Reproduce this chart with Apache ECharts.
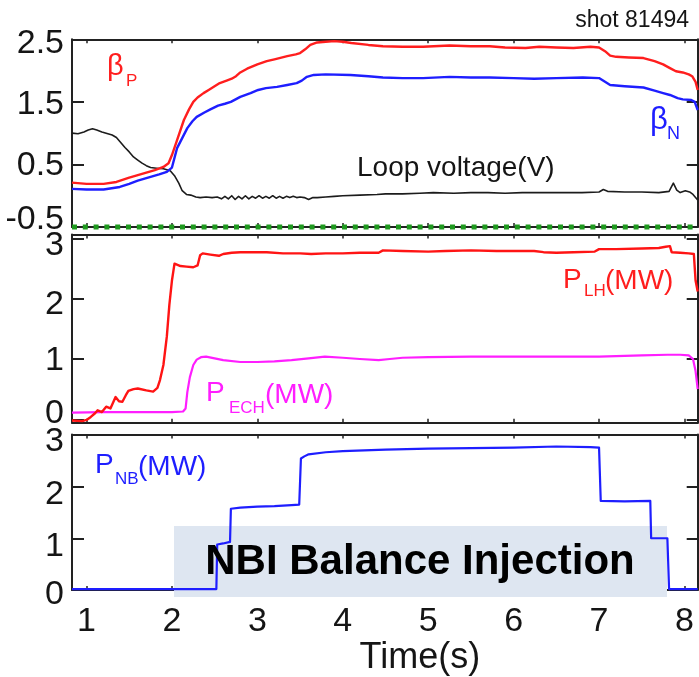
<!DOCTYPE html>
<html>
<head>
<meta charset="utf-8">
<script src="https://cdn.jsdelivr.net/npm/echarts@6/dist/echarts.min.js"></script>
<style>
  html, body { margin: 0; padding: 0; background: #fff; }
  #chart { width: 699px; height: 677px; }
</style>
</head>
<body>
<div id="chart"></div>
<script>
// ---- time axis and tick labels ----
const timeRange = [0.83, 8.155];
const timeTicks = [1, 2, 3, 4, 5, 6, 7, 8];
const betaRange = [-0.5, 2.5];
const betaTicks = [-0.5, 0.5, 1.5, 2.5];
const heatRange = [-0.056, 3.063];
const heatTicks = [0, 1, 2, 3];
const nbRange = [0, 3];
const nbTicks = [0, 1, 2, 3];

// ---- top panel: poloidal beta, normalised beta, loop voltage ----
const betaP = [
  [0.83,0.21],[1.0,0.19],[1.2,0.19],[1.35,0.22],[1.5,0.29],[1.65,0.35],[1.8,0.41],[1.9,0.46],
  [1.96,0.52],[2.0,0.65],[2.06,0.89],[2.14,1.21],[2.2,1.38],[2.25,1.50],[2.3,1.57],[2.37,1.64],
  [2.43,1.69],[2.49,1.74],[2.56,1.80],[2.64,1.84],[2.7,1.87],[2.75,1.91],[2.8,1.97],[2.88,2.03],
  [3.0,2.10],[3.11,2.15],[3.2,2.18],[3.35,2.23],[3.45,2.26],[3.5,2.28],[3.56,2.34],[3.62,2.41],
  [3.7,2.45],[3.8,2.46],[3.9,2.47],[4.0,2.46],[4.1,2.44],[4.3,2.41],[4.47,2.39],[4.7,2.38],
  [4.94,2.38],[5.25,2.40],[5.5,2.39],[5.72,2.39],[5.9,2.37],[6.14,2.36],[6.3,2.38],[6.5,2.37],
  [6.7,2.36],[6.9,2.38],[7.0,2.37],[7.07,2.31],[7.13,2.24],[7.2,2.22],[7.35,2.21],[7.52,2.20],
  [7.65,2.15],[7.75,2.10],[7.83,2.04],[7.9,1.99],[7.98,1.97],[8.05,1.94],[8.09,1.91],[8.13,1.82],
  [8.155,1.69]
];
const betaN = [
  [0.83,0.11],[1.0,0.10],[1.2,0.10],[1.39,0.14],[1.5,0.19],[1.6,0.24],[1.75,0.30],[1.85,0.34],
  [1.94,0.38],[2.0,0.45],[2.06,0.76],[2.12,0.92],[2.18,1.08],[2.24,1.19],[2.29,1.26],[2.38,1.33],
  [2.45,1.38],[2.54,1.44],[2.62,1.47],[2.69,1.50],[2.8,1.58],[2.92,1.64],[3.01,1.69],[3.1,1.72],
  [3.23,1.74],[3.35,1.77],[3.46,1.80],[3.52,1.84],[3.58,1.90],[3.66,1.93],[3.8,1.94],[4.09,1.93],
  [4.3,1.91],[4.47,1.89],[4.7,1.88],[4.94,1.88],[5.25,1.90],[5.5,1.89],[5.72,1.89],[6.0,1.88],
  [6.24,1.87],[6.5,1.88],[6.81,1.89],[7.0,1.88],[7.07,1.82],[7.13,1.77],[7.3,1.75],[7.52,1.73],
  [7.65,1.68],[7.75,1.64],[7.83,1.61],[7.92,1.56],[7.98,1.54],[8.08,1.53],[8.12,1.50],[8.155,1.37]
];
const loopVoltage = [
  [0.83,1.00],[0.9,0.99],[0.97,1.02],[1.02,1.05],[1.07,1.07],[1.12,1.05],[1.18,1.02],[1.25,0.99],
  [1.3,0.97],[1.35,0.93],[1.4,0.85],[1.45,0.77],[1.5,0.70],[1.55,0.62],[1.6,0.57],[1.65,0.52],
  [1.7,0.48],[1.75,0.45],[1.82,0.44],[1.9,0.43],[1.98,0.40],[2.03,0.32],[2.08,0.20],[2.12,0.08],
  [2.17,0.02],[2.22,0.01],[2.28,-0.02],[2.33,-0.03],[2.4,-0.02],[2.47,-0.03],[2.53,-0.02],[2.58,-0.05],
  [2.62,-0.01],[2.66,-0.05],[2.7,0.0],[2.74,-0.06],[2.78,-0.01],[2.82,-0.05],[2.86,0.0],[2.9,-0.05],
  [2.94,-0.01],[2.98,-0.04],[3.02,0.0],[3.06,-0.04],[3.1,-0.01],[3.14,-0.04],[3.18,0.0],[3.22,-0.04],
  [3.26,-0.01],[3.3,-0.04],[3.34,-0.01],[3.38,-0.03],[3.42,-0.01],[3.46,-0.03],[3.5,-0.02],[3.55,-0.03],
  [3.6,-0.06],[3.65,-0.03],[3.7,-0.03],[3.8,-0.02],[3.9,-0.01],[4.0,0.0],[4.2,0.01],[4.4,0.02],
  [4.5,0.03],[4.7,0.03],[4.9,0.04],[5.06,0.05],[5.3,0.04],[5.5,0.05],[5.7,0.05],[5.9,0.04],
  [6.1,0.05],[6.3,0.05],[6.5,0.05],[6.8,0.05],[7.0,0.06],[7.05,0.10],[7.1,0.07],[7.3,0.06],
  [7.5,0.06],[7.7,0.05],[7.82,0.07],[7.87,0.20],[7.91,0.09],[7.95,0.05],[8.01,0.08],[8.06,0.06],
  [8.1,0.02],[8.155,-0.07]
];

// ---- middle panel: lower hybrid and electron cyclotron power ----
const powerLH = [
  [0.83,-0.02],[0.95,-0.03],[1.0,-0.01],[1.05,0.04],[1.1,0.10],[1.13,0.15],[1.18,0.12],[1.23,0.21],
  [1.28,0.18],[1.34,0.37],[1.38,0.30],[1.42,0.29],[1.46,0.40],[1.49,0.47],[1.55,0.50],[1.6,0.51],
  [1.7,0.48],[1.78,0.46],[1.83,0.52],[1.86,0.65],[1.9,0.90],[1.94,1.37],[1.97,1.9],[2.0,2.3],
  [2.03,2.58],[2.05,2.56],[2.1,2.54],[2.17,2.53],[2.25,2.52],[2.3,2.55],[2.33,2.72],[2.36,2.75],
  [2.45,2.73],[2.55,2.71],[2.6,2.74],[2.7,2.76],[2.8,2.77],[2.95,2.77],[3.11,2.77],[3.3,2.75],
  [3.5,2.75],[3.63,2.74],[3.8,2.75],[4.0,2.75],[4.2,2.76],[4.42,2.76],[4.47,2.80],[4.7,2.79],
  [5.0,2.78],[5.2,2.79],[5.5,2.80],[5.8,2.79],[6.0,2.79],[6.24,2.79],[6.35,2.77],[6.5,2.76],
  [6.7,2.77],[6.95,2.78],[7.0,2.82],[7.2,2.82],[7.5,2.83],[7.7,2.84],[7.78,2.86],[7.83,2.87],
  [7.85,2.77],[7.95,2.76],[8.05,2.75],[8.11,2.74],[8.13,2.30],[8.155,2.12]
];
const powerECH = [
  [0.83,0.11],[1.2,0.12],[1.6,0.12],[2.0,0.12],[2.13,0.13],[2.16,0.18],[2.18,0.45],[2.21,0.70],
  [2.25,0.90],[2.29,0.99],[2.34,1.03],[2.4,1.04],[2.5,1.01],[2.6,0.98],[2.8,0.95],[3.0,0.95],
  [3.2,0.96],[3.4,0.98],[3.6,1.01],[3.79,1.04],[4.0,1.02],[4.2,1.00],[4.42,0.98],[4.55,1.00],
  [4.7,1.02],[5.0,1.03],[5.5,1.04],[6.0,1.04],[6.5,1.04],[7.0,1.04],[7.5,1.06],[7.8,1.07],
  [7.95,1.07],[8.05,1.06],[8.1,1.0],[8.13,0.8],[8.155,0.5]
];

// ---- bottom panel: neutral beam power ----
const powerNB = [
  [0.83,0.02],[2.0,0.02],[2.52,0.02],[2.53,0.88],[2.6,0.90],[2.68,0.93],[2.69,1.57],[2.8,1.59],
  [3.0,1.61],[3.2,1.62],[3.4,1.64],[3.49,1.65],[3.51,2.54],[3.55,2.58],[3.6,2.62],[3.8,2.66],
  [4.0,2.68],[4.5,2.71],[5.0,2.73],[5.5,2.74],[6.0,2.75],[6.5,2.77],[6.9,2.76],[7.0,2.75],
  [7.02,1.72],[7.3,1.71],[7.6,1.72],[7.61,1.0],[7.8,1.0],[7.82,0.02],[8.155,0.02]
];

const FONT = '"Liberation Sans", Arial, Helvetica, sans-serif';
const INK = '#151515';
const FRAME = '#222';

// Rich label styles nudging individual tick labels up or down a few pixels
function nudgedLabels(shifts) {
  const keys = Object.keys(shifts);
  const rich = {};
  keys.forEach((k, i) => {
    const s = shifts[k];
    rich['n' + i] = {
      fontFamily: FONT, fontSize: 34, color: INK,
      padding: s >= 0 ? [2 * s, 0, 0, 0] : [0, 0, -2 * s, 0]
    };
  });
  return {
    rich,
    formatter: v => {
      const i = keys.indexOf(String(v));
      return i < 0 ? String(v) : '{n' + i + '|' + v + '}';
    }
  };
}

const panels = [
  { top: 39.3, height: 187.7, range: betaRange, ticks: betaTicks,
    shifts: { '2.5': 4, '1.5': 3, '0.5': 1, '-0.5': -7 } },
  { top: 234.5, height: 188.2, range: heatRange, ticks: heatTicks,
    shifts: { '3': 7, '2': 6, '1': 2, '0': -6 } },
  { top: 434.6, height: 164.4, range: nbRange, ticks: nbTicks,
    shifts: { '3': 7, '2': 8, '1': 8, '0': 5 } }
];

const grids = [], xAxes = [], yAxes = [];
panels.forEach((p, i) => {
  grids.push({ left: 72, right: 1.3, top: p.top, height: p.height, containLabel: false });
  const isLast = i === panels.length - 1;
  ['bottom', 'top'].forEach(pos => {
    xAxes.push({
      type: 'value', gridIndex: i, position: pos,
      min: timeRange[0], max: timeRange[1],
      axisLine: { show: true, onZero: false, lineStyle: { color: FRAME, width: 2 } },
      axisTick: { show: true, inside: true, length: 4, customValues: timeTicks,
                  lineStyle: { color: FRAME, width: 1.5 } },
      axisLabel: (isLast && pos === 'bottom')
        ? { show: true, customValues: timeTicks, margin: 15, fontFamily: FONT, fontSize: 34, color: INK }
        : { show: false },
      splitLine: { show: false },
      name: (isLast && pos === 'bottom') ? 'Time(s)' : '',
      nameLocation: 'middle', nameGap: 43,
      nameTextStyle: { fontFamily: FONT, fontSize: 36, color: INK, padding: [0, 0, 0, 70] }
    });
  });
  ['left', 'right'].forEach(pos => {
    yAxes.push({
      type: 'value', gridIndex: i, position: pos,
      min: p.range[0], max: p.range[1],
      axisLine: { show: true, onZero: false, lineStyle: { color: FRAME, width: 2 } },
      axisTick: { show: true, inside: true, length: pos === 'left' ? 12 : 11, customValues: p.ticks,
                  lineStyle: { color: FRAME, width: 2 } },
      axisLabel: pos === 'left'
        ? Object.assign({ show: true, customValues: p.ticks, margin: 8,
                          fontFamily: FONT, fontSize: 34, color: INK }, nudgedLabels(p.shifts))
        : { show: false },
      splitLine: { show: false }
    });
  });
});

function lineSeries(name, data, panel, color, width) {
  return {
    name, type: 'line', data,
    xAxisIndex: panel * 2, yAxisIndex: panel * 2,
    showSymbol: false, symbol: 'none', clip: true, z: 3,
    lineStyle: { color, width, join: 'round' }
  };
}

const series = [
  lineSeries('loopVoltage', loopVoltage, 0, '#1c1c1c', 1.6),
  lineSeries('betaN', betaN, 0, '#1e1eff', 2.4),
  lineSeries('betaP', betaP, 0, '#ff1e1e', 2.4),
  lineSeries('powerECH', powerECH, 1, '#ff1eff', 2.2),
  lineSeries('powerLH', powerLH, 1, '#ff1414', 2.4),
  lineSeries('powerNB', powerNB, 2, '#1e1eff', 2.2)
];

function txt(text, x, y, size, color, extra) {
  return {
    type: 'text', x, y, z: 50,
    style: Object.assign({ text, fontFamily: FONT, fontSize: size, fill: color,
                           align: 'left', verticalAlign: 'middle' }, extra || {})
  };
}

const RED = '#ff1e1e', BLUE = '#1e1eff', MAG = '#ff1eff';
const graphics = [
  txt('shot 81494', 689, 21, 23, INK, { align: 'right' }),
  txt('β', 107, 67, 29, RED), txt('P', 126, 81, 17, RED),
  txt('β', 650, 120, 31, BLUE), txt('N', 667, 134.5, 18, BLUE),
  txt('Loop voltage(V)', 357, 168, 28, INK),
  txt('P', 563, 280, 28, RED), txt('LH', 584, 291.5, 17, RED), txt('(MW)', 605, 281, 28, RED),
  txt('P', 206, 393, 28, MAG), txt('ECH', 229, 408.5, 17, MAG), txt('(MW)', 265, 395, 28, MAG),
  txt('P', 95, 465, 28, BLUE), txt('NB', 115, 479, 17, BLUE), txt('(MW)', 138, 467, 28, BLUE),
  { type: 'rect', z: 1, shape: { x: 174, y: 526, width: 493, height: 71 },
    style: { fill: '#dee6f1' } },
  txt('NBI Balance Injection', 420, 562, 42, '#000',
      { align: 'center', fontWeight: 'bold' })
];

const chart = echarts.init(document.getElementById('chart'), null, { renderer: 'canvas' });
chart.setOption({
  animation: false,
  backgroundColor: '#fff',
  grid: grids, xAxis: xAxes, yAxis: yAxes,
  series, graphic: graphics
});

// Green dashed separator along the lower edge of the top panel
const left = chart.convertToPixel({ xAxisIndex: 0, yAxisIndex: 0 }, [timeRange[0], betaRange[0]]);
const right = chart.convertToPixel({ xAxisIndex: 0, yAxisIndex: 0 }, [timeRange[1], betaRange[0]]);
graphics.push({
  type: 'line', z: 60,
  shape: { x1: left[0], y1: left[1], x2: right[0], y2: right[1] },
  style: { stroke: '#1f9a1f', lineWidth: 5, lineDash: [5, 5.8] }
});
chart.setOption({ graphic: graphics });
</script>
</body>
</html>
